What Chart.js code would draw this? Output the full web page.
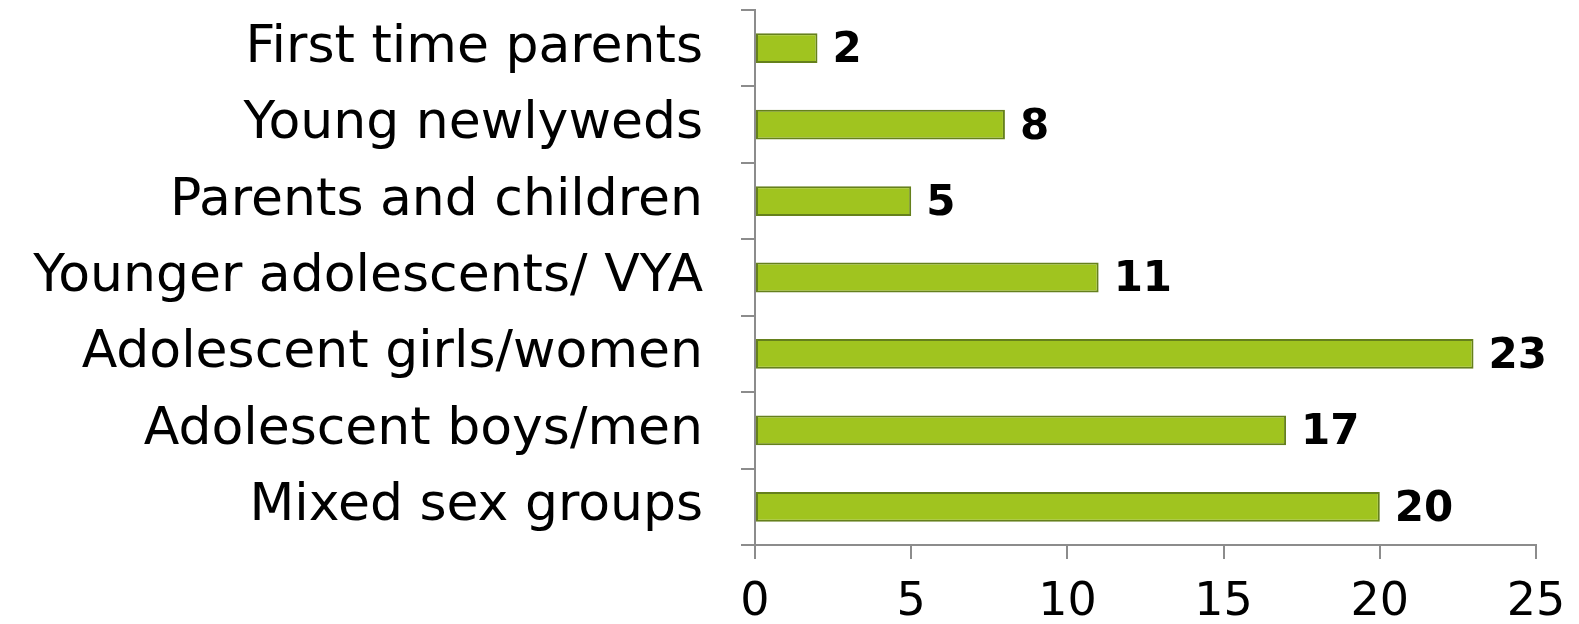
<!DOCTYPE html>
<html>
<head>
<meta charset="utf-8">
<script src="https://cdn.jsdelivr.net/npm/chart.js@4"></script>
<style>
  html, body { margin: 0; padding: 0; background: #fff; }
  #wrap { width: 1579px; height: 624px; }
</style>
</head>
<body>
<div id="wrap"><canvas id="bar_chart_groups"></canvas></div>
<script>
var groups = ["First time parents", "Young newlyweds", "Parents and children",
  "Younger adolescents/ VYA", "Adolescent girls/women", "Adolescent boys/men", "Mixed sex groups"];
var counts = [2, 8, 5, 11, 23, 17, 20];
var x_ticks = [0, 5, 10, 15, 20, 25];

var FONT = "'DejaVu Sans', sans-serif";

// draws the bold count next to each bar end
var valueLabels = {
  id: 'valueLabels',
  afterDatasetsDraw: function (chart) {
    var ctx = chart.ctx;
    var meta = chart.getDatasetMeta(0);
    ctx.save();
    ctx.font = "bold 42px " + FONT;
    ctx.fillStyle = "#000";
    ctx.textAlign = "left";
    ctx.textBaseline = "middle";
    meta.data.forEach(function (bar, i) {
      ctx.fillText(counts[i], bar.x + 15, bar.y + 3);
    });
    ctx.restore();
  }
};

var ctx = document.getElementById("bar_chart_groups");
var myChart = new Chart(ctx, {
  type: 'bar',
  plugins: [valueLabels],
  data: {
    labels: groups,
    datasets: [{
      data: counts,
      backgroundColor: "#a0c41f",
      borderColor: "#65801c",
      borderWidth: 2,
      borderSkipped: false,
      barPercentage: 0.78,
      categoryPercentage: 0.5
    }]
  },
  options: {
    indexAxis: 'y',
    responsive: true,
    maintainAspectRatio: false,
    animation: false,
    layout: { padding: { top: 10, right: 43, bottom: 0, left: 0 } },
    plugins: {
      legend: { display: false },
      tooltip: { enabled: false }
    },
    scales: {
      x: {
        min: 0,
        max: 25,
        afterBuildTicks: function (axis) {
          axis.ticks = x_ticks.map(function (v) { return { value: v }; });
        },
        afterFit: function (axis) {
          axis.height = 79;
          axis.paddingLeft = 0;
          axis.paddingRight = 0;
        },
        grid: {
          drawOnChartArea: false,
          color: "#8c8c8c",
          lineWidth: 2,
          tickLength: 14
        },
        border: { color: "#8c8c8c", width: 2 },
        ticks: {
          color: "#000",
          font: { family: FONT, size: 46 },
          padding: 16
        }
      },
      y: {
        afterFit: function (axis) {
          axis.width = 755;
          axis.paddingTop = 0;
          axis.paddingBottom = 0;
        },
        grid: {
          drawOnChartArea: false,
          color: "#8c8c8c",
          lineWidth: 2,
          tickLength: 14,
          offset: true
        },
        border: { color: "#8c8c8c", width: 2 },
        ticks: {
          color: "#000",
          font: { family: FONT, size: 52 },
          padding: 38
        }
      }
    }
  }
});
</script>
</body>
</html>
